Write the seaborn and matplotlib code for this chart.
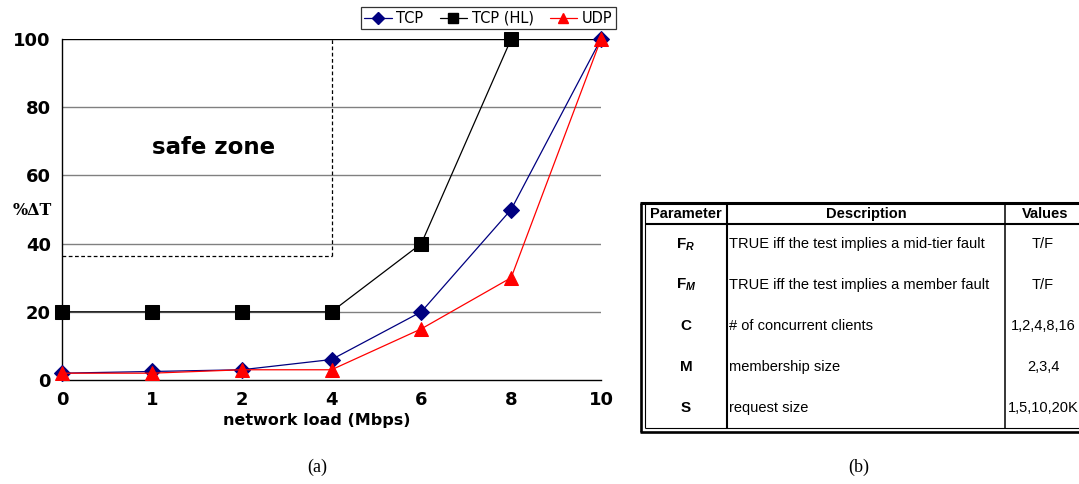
import numpy as np
import matplotlib
matplotlib.use("Agg")
import matplotlib.pyplot as plt
import seaborn as sns
from matplotlib.lines import Line2D

sns.set_theme(style="white")
plt.rcParams['font.family'] = ['DejaVu Sans']
plt.rcParams['text.color'] = 'black'
plt.rcParams['axes.labelcolor'] = 'black'
plt.rcParams['xtick.color'] = 'black'
plt.rcParams['ytick.color'] = 'black'
plt.rcParams['mathtext.fontset'] = 'custom'
plt.rcParams['mathtext.rm'] = 'Liberation Sans'
plt.rcParams['mathtext.bf'] = 'Liberation Sans:bold'
plt.rcParams['mathtext.it'] = 'Liberation Sans:italic'
plt.rcParams['mathtext.bfit'] = 'Liberation Sans:bold:italic'

# ---------------- data ----------------
load_labels = ["0", "1", "2", "4", "6", "8", "10"]
tcp = [2, 2.5, 3, 6, 20, 50, 100]
tcp_hl = [20, 20, 20, 20, 40, 100, np.nan]
udp = [2, 2, 3, 3, 15, 30, 100]
y_ticks = [0, 20, 40, 60, 80, 100]
safe_zone_x = 3          # category index of "4"
safe_zone_y = 36.3

table_header = ["Parameter", "Description", "Values"]
table_params = [r"$\mathbf{F}_{\mathbfit{R}}$", r"$\mathbf{F}_{\mathbfit{M}}$", "C", "M", "S"]
table_desc = ["TRUE iff the test implies a mid-tier fault",
              "TRUE iff the test implies a member fault",
              "# of concurrent clients",
              "membership size",
              "request size"]
table_values = ["T/F", "T/F", "1,2,4,8,16", "2,3,4", "1,5,10,20K"]

W, H = 1079, 484
fig = plt.figure(figsize=(W / 100, H / 100), dpi=100)
fig.patch.set_facecolor("white")

# ---------------- chart ----------------
x0, x1, ytop, ybot = 62, 601, 39, 380
ax = fig.add_axes([x0 / W, 1 - ybot / H, (x1 - x0) / W, (ybot - ytop) / H])
pos = np.arange(len(load_labels))

for yv in [20, 40, 60, 80]:
    ax.axhline(yv, color="#808080", lw=1.0, zorder=1)
ax.axhline(100, color="black", lw=1.0, zorder=1)

series = [("TCP", tcp, "#000080", "D", 8),
          ("TCP (HL)", tcp_hl, "black", "s", 10),
          ("UDP", udp, "#ff0000", "^", 9.5)]
for name, vals, col, mk, ms in series:
    sns.lineplot(x=pos, y=vals, ax=ax, color=col, marker=mk, markersize=ms,
                 markeredgecolor=col, lw=0.9, clip_on=False, zorder=3, legend=False)

# safe zone box
ax.plot([safe_zone_x, safe_zone_x], [safe_zone_y, 100], color="black", lw=0.9,
        ls=(0, (3, 2)), zorder=2)
ax.plot([0, safe_zone_x], [safe_zone_y, safe_zone_y], color="black", lw=0.9,
        ls=(0, (3, 2)), zorder=2)
ax.text(1.69, 68.3, "safe zone", ha="center", va="center", fontsize=16.5,
        fontweight="bold", color="black")

ax.set_xlim(0, len(load_labels) - 1)
ax.set_ylim(0, 100)
ax.set_xticks(pos)
ax.set_xticklabels(load_labels)
ax.set_yticks(y_ticks)
ax.tick_params(axis="both", direction="out", length=4, width=1, color="black",
               labelsize=13, pad=4, labelcolor="black")
for lab in ax.get_xticklabels() + ax.get_yticklabels():
    lab.set_fontweight("bold")
for s in ["top", "right"]:
    ax.spines[s].set_visible(False)
for s in ["left", "bottom"]:
    ax.spines[s].set_color("black")
    ax.spines[s].set_linewidth(1.0)
ax.set_facecolor("white")
ax.set_xlabel("")
ax.set_ylabel("")

fig.text(317 / W, 1 - 421 / H, "network load (Mbps)", ha="center", va="center",
         fontsize=11.5, fontweight="bold")
fig.text(32 / W, 1 - 211 / H, "%\u0394T", ha="center", va="center",
         fontsize=11.5, fontweight="bold", family=["DejaVu Serif"])

handles = [Line2D([], [], color=c, marker=m, markersize=ms * 0.75, markeredgecolor=c, lw=0.9)
           for _, _, c, m, ms in series]
leg = fig.legend(handles, [s[0] for s in series], loc="upper right",
                 bbox_to_anchor=(616 / W, 1 - 7 / H), ncol=3, fontsize=10.5,
                 frameon=True, fancybox=False, borderpad=0.25, handlelength=1.9,
                 handletextpad=0.3, columnspacing=1.1, borderaxespad=0)
leg.get_frame().set_edgecolor("black")
leg.get_frame().set_linewidth(0.9)

# ---------------- table + captions ----------------
ov = fig.add_axes([0, 0, 1, 1])
ov.set_xlim(0, W)
ov.set_ylim(H, 0)
ov.axis("off")

tb_top, hdr_bot, in_bot, out_bot = 203, 224, 428, 432
c1, c2 = 727, 1005
ov.plot([640, W], [tb_top, tb_top], color="black", lw=2.2, solid_capstyle="butt")
ov.plot([641, 641], [tb_top, out_bot], color="black", lw=1.9, solid_capstyle="butt")
ov.plot([645, 645], [tb_top, in_bot], color="black", lw=0.8, solid_capstyle="butt")
ov.plot([645, W], [hdr_bot, hdr_bot], color="black", lw=1.5, solid_capstyle="butt")
ov.plot([c1, c1], [tb_top, in_bot], color="black", lw=1.5, solid_capstyle="butt")
ov.plot([c2, c2], [tb_top, in_bot], color="black", lw=1.1, solid_capstyle="butt")
ov.plot([645, W], [in_bot, in_bot], color="black", lw=0.8, solid_capstyle="butt")
ov.plot([640, W], [out_bot, out_bot], color="black", lw=1.9, solid_capstyle="butt")

tfont = ["Liberation Sans"]
fs = 10.5
hy = (tb_top + hdr_bot) / 2 + 0.5
ov.text(686, hy, table_header[0], ha="center", va="center", fontsize=fs,
        fontweight="bold", family=tfont)
ov.text(866, hy, table_header[1], ha="center", va="center", fontsize=fs,
        fontweight="bold", family=tfont)
ov.text(1045, hy, table_header[2], ha="center", va="center", fontsize=fs,
        fontweight="bold", family=tfont)
row_h = (in_bot - hdr_bot) / len(table_params)
for i, (p, d, v) in enumerate(zip(table_params, table_desc, table_values)):
    cy = hdr_bot + row_h * (i + 0.5)
    ov.text(686, cy, p, ha="center", va="center", fontsize=11, fontweight="bold",
            family=tfont)
    ov.text(729, cy, d, ha="left", va="center", fontsize=fs, family=tfont)
    ov.text(1043, cy, v, ha="center", va="center", fontsize=fs, family=tfont)

ov.text(317, 467, "(a)", ha="center", va="center", fontsize=13, family=["Liberation Serif"])
ov.text(859, 467, "(b)", ha="center", va="center", fontsize=13, family=["Liberation Serif"])

fig.savefig("out.png", dpi=100, facecolor="white")
